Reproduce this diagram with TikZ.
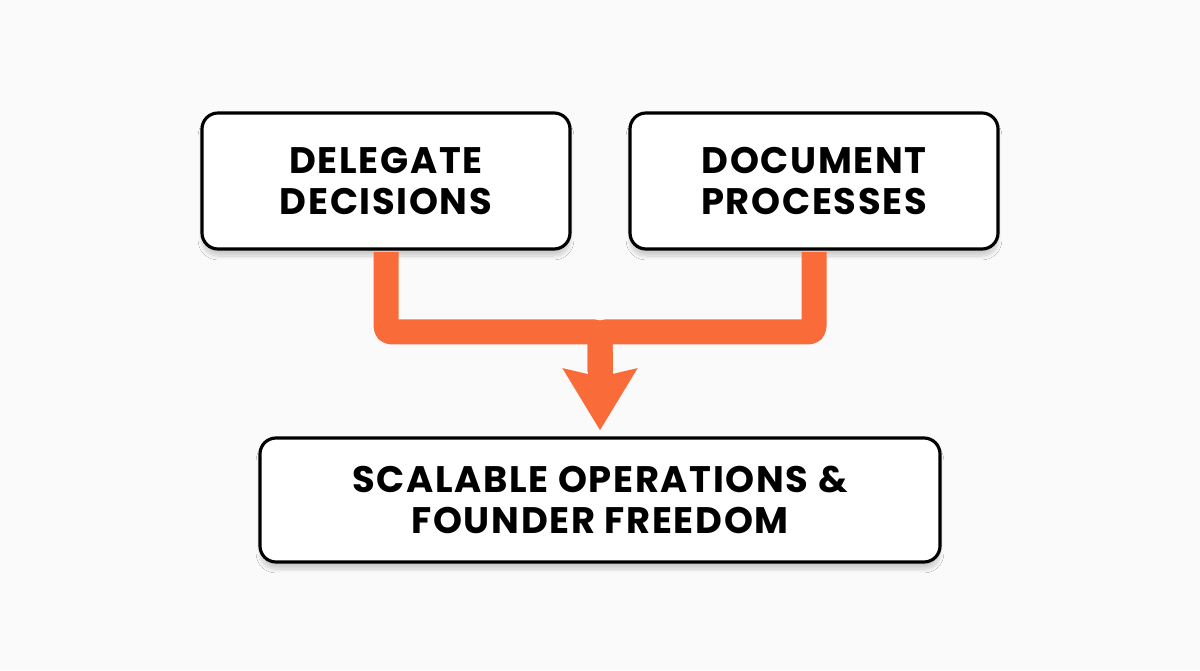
\documentclass[tikz,border=0pt]{standalone}
\usepackage{fontspec}
\setmainfont{Poppins}[LetterSpace=4.5]
\usetikzlibrary{arrows.meta,shadows.blur}
\definecolor{flow}{HTML}{F96B38}
\definecolor{paper}{HTML}{FAFAFA}

\begin{document}
\begin{tikzpicture}[
  every node/.style={font=\fontsize{21}{23.5}\selectfont\bfseries},
  card/.style={draw=black, line width=1.8pt, fill=white, rounded corners=0.32cm,
    align=center, inner sep=0pt,
    blur shadow={shadow xshift=0pt, shadow yshift=-4pt, shadow blur steps=10, shadow opacity=18}},
  flowline/.style={draw=flow, line width=0.5cm, line join=round}]
  \fill[paper] (0,0) rectangle (24,13.4);
  % boxes
  \node[card, minimum width=7.36cm, minimum height=2.72cm] (delegate) at (7.72,9.78) {DELEGATE\\DECISIONS};
  \node[card, minimum width=7.36cm, minimum height=2.72cm] (document) at (16.28,9.78) {DOCUMENT\\PROCESSES};
  \node[card, minimum width=13.6cm, minimum height=2.48cm] (result) at (12,3.4) {SCALABLE OPERATIONS \&\\FOUNDER FREEDOM};
  % connectors
  \coordinate (joint) at (12,6.76);
  \draw[flowline] ([yshift=-0.9pt]delegate.south) [rounded corners=0.1cm] |- (joint) [rounded corners=0.3cm] -- ([yshift=-0.8cm]joint);
  \draw[flowline] ([yshift=-0.9pt]document.south) [rounded corners=0.1cm] |- (joint) [rounded corners=0.3cm] -- ([yshift=-0.8cm]joint);
  \draw[flowline, -{Stealth[length=1.22cm, width=1.44cm, inset=0.15cm]}] ([yshift=-0.4cm]joint) -- ([yshift=0.12cm]result.north);
\end{tikzpicture}
\end{document}
